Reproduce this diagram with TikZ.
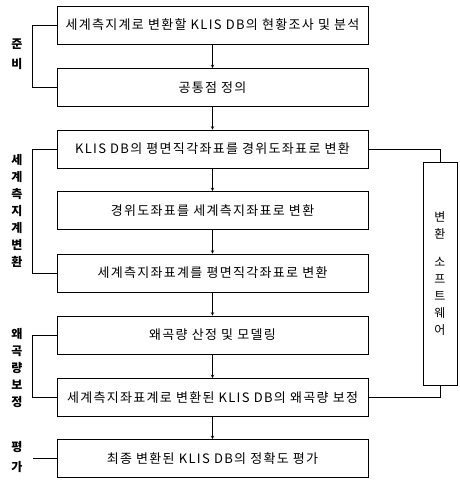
\documentclass[tikz,border=0pt]{standalone}
\usepackage{fontspec}
\setmainfont{Noto Sans CJK KR}
\newfontfamily\stagefont[LetterSpace=10]{Noto Sans CJK KR}
\begin{document}
\begin{tikzpicture}[x=1pt, y=-1pt,
    stage/.style={rectangle, draw, line width=0.6pt, minimum width=311pt, minimum height=38pt, inner sep=0pt, font=\stagefont\fontsize{13}{15}\selectfont},
    flow/.style={->, >=stealth, line width=0.6pt},
    link/.style={line width=0.6pt},
    phase/.style={align=center, inner sep=0pt, font=\bfseries\fontsize{12}{17}\selectfont}
]
\useasboundingbox (0,0) rectangle (459,483);

% Main steps
\node[stage] (survey) at (212.5,25) {세계측지계로 변환할 KLIS DB의 현황조사 및 분석};
\node[stage] (common) at (212.5,87.5) {공통점 정의};
\node[stage] (toGeo) at (212.5,149) {KLIS DB의 평면직각좌표를 경위도좌표로 변환};
\node[stage] (toWorld) at (212.5,210.5) {경위도좌표를 세계측지좌표로 변환};
\node[stage] (toPlane) at (212.5,273) {세계측지좌표계를 평면직각좌표로 변환};
\node[stage] (model) at (212.5,335) {왜곡량 산정 및 모델링};
\node[stage] (correct) at (212.5,397.5) {세계측지좌표계로 변환된 KLIS DB의 왜곡량 보정};
\node[stage] (evaluate) at (212.5,458.5) {최종 변환된 KLIS DB의 정확도 평가};

% Software
\node[draw, line width=0.6pt, minimum width=34pt, minimum height=223pt, inner sep=0pt, align=center, font=\fontsize{12}{17}\selectfont] (software) at (440,273.5) {변\\환\\[11pt]소\\프\\트\\웨\\어};

% Phase labels
\node[phase] (prepLabel) at (17,54) {준\\[3pt]비};
\node[phase] (convLabel) at (17,211) {세\\계\\측\\지\\계\\변\\환};
\node[phase] (corrLabel) at (17,368) {왜\\곡\\량\\보\\정};
\node[phase] (evalLabel) at (17,457) {평\\[3pt]가};
\coordinate (evalTick) at (33,458.5);

% Flow
\draw[flow] (survey) -- (common);
\draw[flow] (common) -- (toGeo);
\draw[flow] (toGeo) -- (toWorld);
\draw[flow] (toWorld) -- (toPlane);
\draw[flow] (toPlane) -- (model);
\draw[flow] (model) -- (correct);
\draw[flow] (correct) -- (evaluate);

% Brackets
\draw[link] (survey.west) -- ++(-24,0) |- (common.west);
\draw[link] (toGeo.west) -- ++(-24,0) |- (toPlane.west);
\draw[link] (model.west) -- ++(-24,0) |- (correct.west);
\draw[link] (evalTick) -- (evaluate.west);

% Software links
\draw[link] (toGeo.east) -| (software.north);
\draw[link] (correct.east) -| (software.south);

\end{tikzpicture}
\end{document}
